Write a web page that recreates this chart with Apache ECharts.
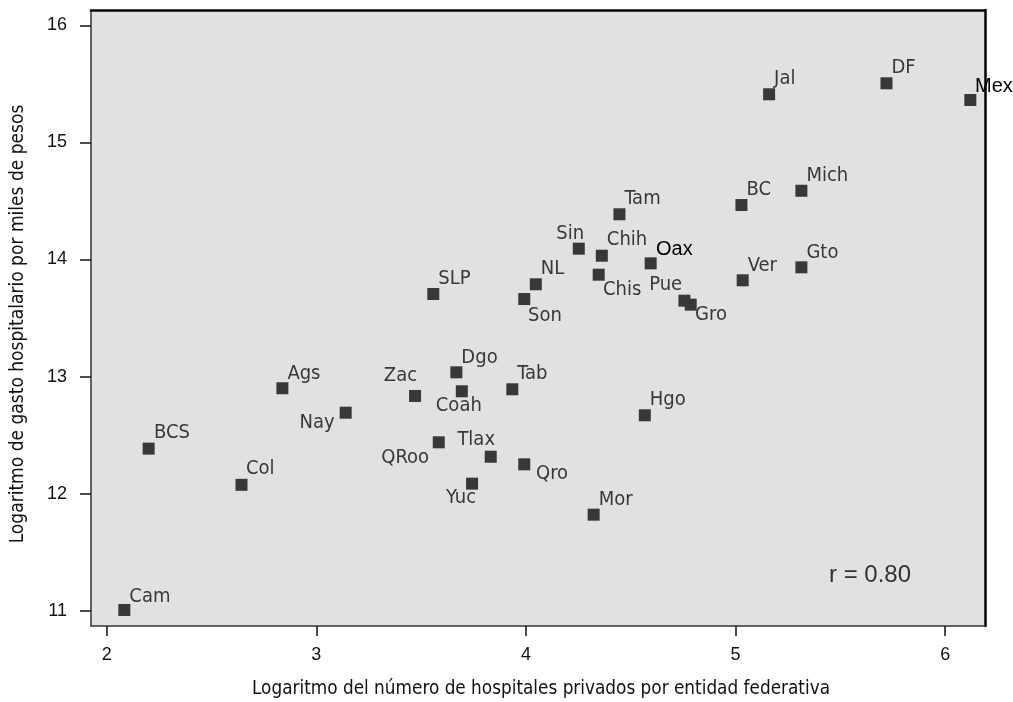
<!DOCTYPE html>
<html><head><meta charset="utf-8">
<script src="https://cdn.jsdelivr.net/npm/echarts@6/dist/echarts.min.js"></script>
<style>html,body{margin:0;padding:0;background:#fff}#c{width:1013px;height:702px}</style>
</head><body><div id="c"></div>
<script>
// ---- data ----
const states = ['Cam','BCS','Col','Ags','Nay','SLP','Zac','Dgo','Coah','QRoo','Tlax','Yuc','Tab','Qro','Son','NL','Sin','Chih','Chis','Tam','Oax','Pue','Gro','Hgo','Mor','BC','Ver','Jal','Mich','Gto','DF','Mex'];
const logHospitals = [2.084,2.200,2.643,2.838,3.140,3.558,3.471,3.668,3.694,3.584,3.832,3.743,3.935,3.992,3.992,4.047,4.252,4.362,4.347,4.446,4.595,4.756,4.786,4.567,4.323,5.028,5.034,5.160,5.314,5.314,5.720,6.120];
const logSpending = [11.006,12.384,12.075,12.900,12.691,13.705,12.834,13.036,12.874,12.438,12.315,12.085,12.891,12.250,13.662,13.788,14.092,14.032,13.870,14.386,13.967,13.648,13.614,12.669,11.820,14.465,13.822,15.411,14.587,13.933,15.505,15.362];
const xTicks = [2,3,4,5,6];
const yTicks = [11,12,13,14,15,16];
const xTitle = 'Logaritmo del número de hospitales privados por entidad federativa';
const yTitle = 'Logaritmo de gasto hospitalario por miles de pesos';
const rText = 'r = 0.80';

// ---- label placement (style config): [dx, baseline dy, align] relative to marker centre ----
const TR = [5, -8, 'left'];
const labelLayout = {
  Nay:[-11,16.6,'right'], Zac:[2,-13.3,'right'], Coah:[-3,21.3,'center'], QRoo:[-9.7,22.7,'right'],
  Tlax:[4.3,-9.7,'right'], Yuc:[4,21.6,'right'], Qro:[11.7,16.7,'left'], Son:[3.7,23.5,'left'],
  Sin:[5.3,-7.7,'right'], Chih:[5,-9,'left'], Chis:[4.3,22.6,'left'], Pue:[-2.3,-8.4,'right'],
  Gro:[4.3,17.6,'left'], Oax:[5.3,-7.3,'left'], Mex:[4.7,-6.7,'left'], Cam:[5,-6.4,'left'],
  BCS:[5.3,-8.7,'left'], Col:[4.5,-8.8,'left'], Ags:[5,-7.3,'left']
};
const emphasized = ['Oax','Mex'];

const NARROW = "'Liberation Sans Narrow','DejaVu Sans Condensed','Roboto Condensed',sans-serif";
const SANS = "'Liberation Sans',Arial,sans-serif";
const SYM = 12, LABEL_FS = 20, BASE_OFF = 7;

const points = states.map((n, i) => {
  const [dx, by, align] = labelLayout[n] || TR;
  const em = emphasized.includes(n);
  return {
    name: n,
    value: [logHospitals[i], logSpending[i]],
    label: {
      show: true,
      formatter: n,
      position: [SYM/2 + dx, SYM/2 + by - BASE_OFF],
      align: align,
      verticalAlign: 'middle',
      fontSize: LABEL_FS,
      lineHeight: LABEL_FS,
      fontFamily: em ? SANS : NARROW,
      color: em ? '#000' : '#383838',
      opacity: 1
    }
  };
});

const chart = echarts.init(document.getElementById('c'), null, {renderer: 'canvas'});
const xMin = 1.925, xMax = 6.19, yMin = 10.869, yMax = 16.131;
chart.setOption({
  animation: false,
  backgroundColor: '#fff',
  grid: {left: 91, right: 28, top: 10, bottom: 76, show: true, backgroundColor: '#e1e1e1', borderWidth: 0},
  xAxis: [{
    type: 'value', min: xMin, max: xMax, position: 'bottom',
    axisLine: {show: true, onZero: false, lineStyle: {color: '#333', width: 1.5}},
    axisTick: {show: true, length: 10, customValues: xTicks, lineStyle: {color: '#111', width: 1.5}},
    axisLabel: {customValues: xTicks, fontSize: 18, color: '#111', margin: 20, fontFamily: SANS},
    splitLine: {show: false}
  }, {
    type: 'value', min: xMin, max: xMax, position: 'top',
    axisLine: {show: true, onZero: false, lineStyle: {color: '#000', width: 2.5}},
    axisTick: {show: false}, axisLabel: {show: false}, splitLine: {show: false}
  }],
  yAxis: [{
    type: 'value', min: yMin, max: yMax, position: 'left',
    axisLine: {show: true, onZero: false, lineStyle: {color: '#333', width: 1.5}},
    axisTick: {show: true, length: 11, customValues: yTicks, lineStyle: {color: '#111', width: 1.5}},
    axisLabel: {customValues: yTicks, fontSize: 18, color: '#111', margin: 24, fontFamily: SANS},
    splitLine: {show: false}
  }, {
    type: 'value', min: yMin, max: yMax, position: 'right',
    axisLine: {show: true, onZero: false, lineStyle: {color: '#000', width: 2.5}},
    axisTick: {show: false}, axisLabel: {show: false}, splitLine: {show: false}
  }],
  series: [{
    type: 'scatter',
    xAxisIndex: 0, yAxisIndex: 0,
    symbol: 'rect', symbolSize: SYM,
    itemStyle: {color: '#383838', opacity: 1},
    labelLayout: {hideOverlap: false},
    data: points
  }],
  graphic: [
    {type: 'text', x: 541, y: 689, style: {text: xTitle, align: 'center', verticalAlign: 'middle', font: '18.8px ' + NARROW, fill: '#111'}},
    {type: 'text', x: 18, y: 324, rotation: Math.PI/2, style: {text: yTitle, align: 'center', verticalAlign: 'middle', font: '19px ' + NARROW, fill: '#111'}},
    {type: 'text', x: 829, y: 575, style: {text: rText, align: 'left', verticalAlign: 'middle', font: '24px ' + SANS, fill: '#333'}}
  ]
});
</script></body></html>
